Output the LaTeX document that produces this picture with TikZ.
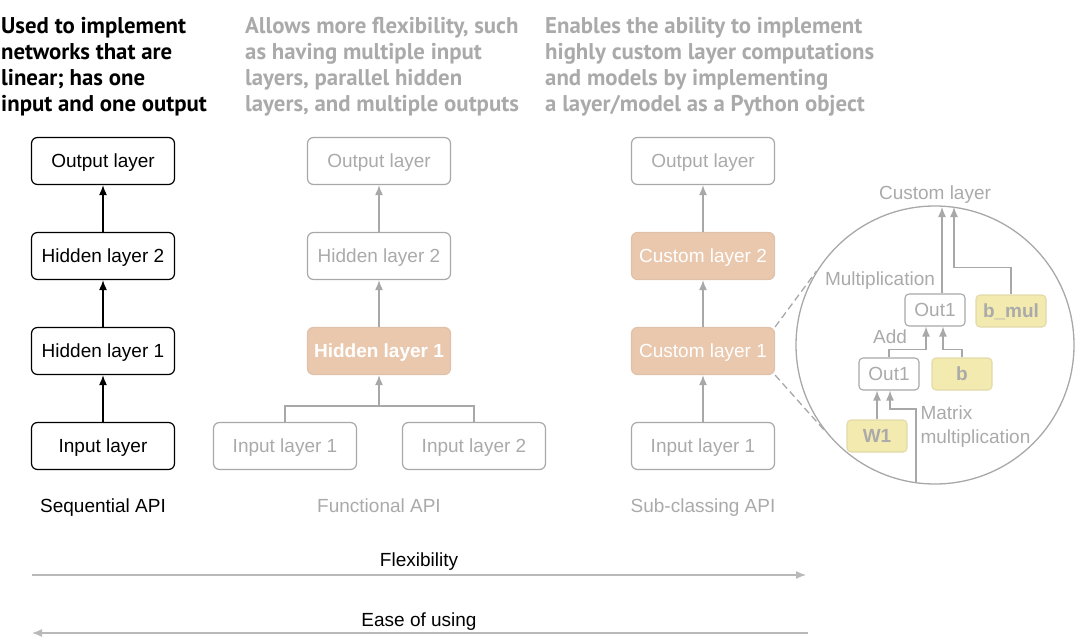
\documentclass[tikz,border=0pt]{standalone}
\usepackage{fontspec}
\setmainfont{Liberation Sans}
\newfontfamily\headfont{PT Sans}
\usetikzlibrary{shapes,arrows.meta}
\definecolor{LineGray}{RGB}{168,168,168}
\definecolor{TextGray}{RGB}{170,170,170}
\definecolor{LayerOrange}{RGB}{234,200,174}
\definecolor{ParamYellow}{RGB}{243,234,176}

\begin{document}
\begin{tikzpicture}[x=1pt, y=-1pt]
				\tikzstyle{layer}=[draw, rounded corners=6, minimum width=143, minimum height=47, line width=1.2, text depth=0, font=\fontsize{19}{22}\selectfont];
				\tikzstyle{grey layer}=[layer, draw=LineGray, text=TextGray];
				\tikzstyle{hot layer}=[layer, draw=LayerOrange!90!gray, fill=LayerOrange, text=white];
				\tikzstyle{small box}=[draw=LineGray, rounded corners=4, minimum width=60, minimum height=32, line width=1.1, text depth=0, text=TextGray, font=\fontsize{19}{22}\selectfont];
				\tikzstyle{param}=[small box, draw=ParamYellow!85!gray, fill=ParamYellow, font=\fontsize{19}{22}\selectfont\bfseries];
				\tikzstyle{header}=[anchor=north west, align=left, inner sep=0, font=\headfont\fontsize{22.8}{26}\selectfont\bfseries];
				\tikzstyle{caption}=[text depth=0, font=\fontsize{19}{22}\selectfont];
				\tikzstyle{flow}=[-{Latex[length=10,width=8]}, line width=1.3];
				\useasboundingbox (0,0) rectangle (1075,639);
				% headers
				\node [header] (seqnote) at (1,17) {Used to implement\\networks that are\\linear; has one\\input and one output};
				\node [header, text=TextGray] (funnote) at (245,17) {Allows more flexibility, such\\as having multiple input\\layers, parallel hidden\\layers, and multiple outputs};
				\node [header, text=TextGray] (subnote) at (545,17) {Enables the ability to implement\\highly custom layer computations\\and models by implementing\\a layer/model as a Python object};
				% sequential
				\node [layer] (seqout) at (103,161) {Output layer};
				\node [layer] (seqh2) at (103,256) {Hidden layer 2};
				\node [layer] (seqh1) at (103,351) {Hidden layer 1};
				\node [layer] (seqin) at (103,446) {Input layer};
				\node [caption] (seqapi) at (103,506) {Sequential API};
				\draw[flow] (seqin) -- (seqh1);
				\draw[flow] (seqh1) -- (seqh2);
				\draw[flow] (seqh2) -- (seqout);
				% functional
				\node [grey layer] (funout) at (379,161) {Output layer};
				\node [grey layer] (funh2) at (379,256) {Hidden layer 2};
				\node [hot layer, font=\fontsize{19}{22}\selectfont\bfseries] (funh1) at (379,351) {Hidden layer 1};
				\node [grey layer] (funin1) at (285,446) {Input layer 1};
				\node [grey layer] (funin2) at (474,446) {Input layer 2};
				\node [caption, text=TextGray] (funapi) at (379,506) {Functional API};
				\coordinate (funjoin) at (379,406);
				\draw[draw=LineGray, line width=1.3] (funin1.north) |- (funjoin) -| (funin2.north);
				\draw[flow, LineGray] (funjoin) -- (funh1);
				\draw[flow, LineGray] (funh1) -- (funh2);
				\draw[flow, LineGray] (funh2) -- (funout);
				% sub-classing
				\node [grey layer] (subout) at (703,161) {Output layer};
				\node [hot layer] (subc2) at (703,256) {Custom layer 2};
				\node [hot layer] (subc1) at (703,351) {Custom layer 1};
				\node [grey layer] (subin) at (703,446) {Input layer 1};
				\node [caption, text=TextGray] (subapi) at (703,506) {Sub-classing API};
				\draw[flow, LineGray] (subin) -- (subc1);
				\draw[flow, LineGray] (subc1) -- (subc2);
				\draw[flow, LineGray] (subc2) -- (subout);
				% zoom into custom layer 1
				\node [draw=LineGray, circle, line width=1.3, minimum size=278] (zoom) at (935,345) {};
				\draw[LineGray, dashed, dash pattern=on 7 off 4, line width=1.3] (subc1.north east) -- (zoom.148);
				\draw[LineGray, dashed, dash pattern=on 7 off 4, line width=1.3] (subc1.south east) -- (zoom.218);
				\node [caption, text=TextGray] (customlbl) at (935,193) {Custom layer};
				\node [small box] (out1b) at (935,310) {Out1};
				\node [param, minimum width=70] (bmul) at (1011,311) {b\_mul};
				\node [small box] (out1a) at (889,374) {Out1};
				\node [param] (bvec) at (962,374) {b};
				\node [param] (wone) at (877,436) {W1};
				\node [caption, text=TextGray] (multlbl) at (880,279) {Multiplication};
				\node [caption, text=TextGray] (addlbl) at (890,337) {Add};
				\node [caption, text=TextGray, anchor=west, align=left, font=\fontsize{19}{24}\selectfont] (matlbl) at (917,425) {Matrix\\multiplication};
				\coordinate (ctop1) at (942,207);
				\coordinate (ctop2) at (954,207);
				\coordinate (cbot) at (916,483);
				\draw[flow, LineGray] ([xshift=7]out1b.north) -- (ctop1);
				\draw[flow, LineGray] (bmul.north) -- ++(0,-27) -| (ctop2);
				\draw[flow, LineGray] (out1a.north) -- ++(0,-8) -| ([xshift=-9]out1b.south);
				\draw[flow, LineGray] (bvec.north) -- ++(0,-8) -| ([xshift=8]out1b.south);
				\draw[flow, LineGray] (wone.north) -- (wone.north |- out1a.south);
				\draw[flow, LineGray] (cbot) -- ++(0,-74) -| ([xshift=1]out1a.south);
				% bottom scales
				\node [caption] (flexlbl) at (419,560) {Flexibility};
				\coordinate (flexs) at (32,575);
				\coordinate (flexe) at (806,575);
				\draw[flow, LineGray!80] (flexs) -- (flexe);
				\node [caption] (easelbl) at (419,620) {Ease of using};
				\coordinate (eases) at (808,633);
				\coordinate (easee) at (32,633);
				\draw[flow, LineGray!80] (eases) -- (easee);
			\end{tikzpicture}
\end{document}
